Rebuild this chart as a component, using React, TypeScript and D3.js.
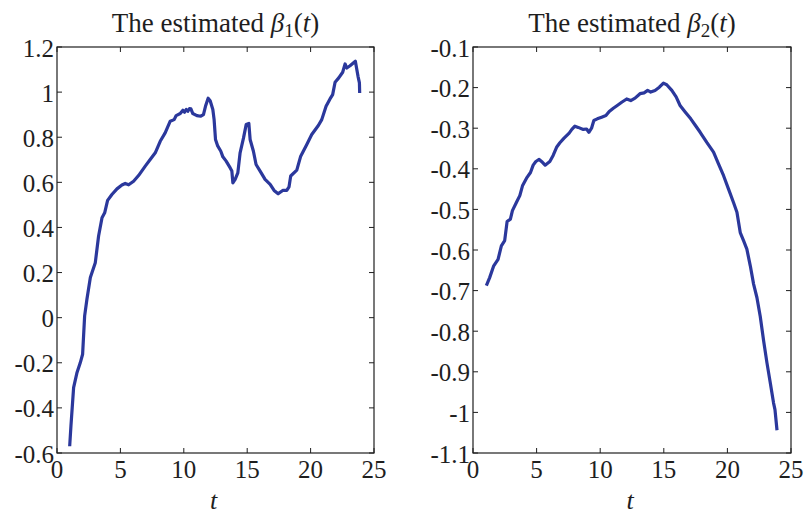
import React from "react";
import * as d3 from "d3";

const beta1T = [1.0, 1.1, 1.31, 1.58, 1.84, 2.02, 2.18, 2.36, 2.63, 3.02, 3.28, 3.55, 3.76, 3.99, 4.33, 4.73, 5.12, 5.38, 5.65, 6.04, 6.43, 6.96, 7.35, 7.75, 8.14, 8.53, 8.93, 9.24, 9.4, 9.72, 9.93, 10.06, 10.19, 10.32, 10.45, 10.56, 10.71, 11.03, 11.34, 11.55, 11.71, 11.92, 12.08, 12.29, 12.39, 12.5, 12.66, 12.92, 13.08, 13.34, 13.66, 13.79, 13.87, 14.05, 14.26, 14.44, 14.71, 14.92, 15.13, 15.23, 15.49, 15.7, 16.02, 16.41, 16.81, 17.12, 17.44, 17.8, 18.12, 18.3, 18.43, 18.91, 19.22, 19.7, 20.09, 20.61, 20.88, 21.22, 21.53, 21.74, 21.93, 22.22, 22.53, 22.72, 22.85, 23.11, 23.53, 23.74, 23.85, 23.87];
const beta1V = [-0.57, -0.48, -0.31, -0.243, -0.199, -0.162, 0.008, 0.082, 0.178, 0.244, 0.362, 0.443, 0.465, 0.52, 0.546, 0.571, 0.588, 0.595, 0.589, 0.605, 0.63, 0.672, 0.701, 0.731, 0.782, 0.819, 0.871, 0.878, 0.896, 0.905, 0.92, 0.911, 0.923, 0.915, 0.927, 0.926, 0.905, 0.896, 0.893, 0.9, 0.937, 0.973, 0.962, 0.923, 0.878, 0.79, 0.763, 0.738, 0.713, 0.694, 0.664, 0.65, 0.598, 0.613, 0.642, 0.731, 0.797, 0.856, 0.861, 0.79, 0.738, 0.679, 0.65, 0.613, 0.591, 0.564, 0.549, 0.564, 0.564, 0.58, 0.628, 0.654, 0.716, 0.768, 0.812, 0.852, 0.878, 0.937, 0.97, 0.989, 1.044, 1.063, 1.088, 1.125, 1.107, 1.117, 1.137, 1.07, 1.041, 0.996];

const beta2T = [1.05, 1.31, 1.63, 1.97, 2.23, 2.49, 2.68, 2.94, 3.1, 3.41, 3.68, 3.89, 4.25, 4.52, 4.73, 4.94, 5.2, 5.46, 5.67, 6.04, 6.3, 6.57, 6.83, 7.14, 7.56, 7.77, 8.01, 8.27, 8.67, 8.93, 9.11, 9.32, 9.5, 9.77, 10.11, 10.45, 10.71, 11.03, 11.34, 11.69, 12.08, 12.4, 12.74, 13.13, 13.45, 13.73, 13.97, 14.31, 14.65, 14.97, 15.23, 15.63, 15.97, 16.28, 16.68, 17.12, 17.46, 17.86, 18.38, 18.91, 19.3, 19.7, 20.09, 20.48, 20.75, 21.01, 21.27, 21.53, 21.8, 22.06, 22.32, 22.58, 22.85, 23.11, 23.37, 23.63, 23.74, 23.9];
const beta2V = [-0.688, -0.668, -0.639, -0.623, -0.59, -0.577, -0.53, -0.524, -0.503, -0.483, -0.466, -0.442, -0.421, -0.409, -0.391, -0.382, -0.377, -0.384, -0.391, -0.382, -0.367, -0.347, -0.336, -0.325, -0.312, -0.303, -0.295, -0.298, -0.303, -0.302, -0.31, -0.3, -0.281, -0.277, -0.273, -0.269, -0.259, -0.251, -0.244, -0.236, -0.228, -0.232, -0.226, -0.215, -0.213, -0.207, -0.211, -0.207, -0.199, -0.189, -0.193, -0.207, -0.223, -0.244, -0.26, -0.277, -0.292, -0.31, -0.335, -0.359, -0.388, -0.417, -0.45, -0.483, -0.507, -0.557, -0.577, -0.598, -0.639, -0.684, -0.717, -0.763, -0.824, -0.878, -0.927, -0.977, -0.993, -1.044];

const xTicks = [0, 5, 10, 15, 20, 25];
const y1Ticks = [-0.6, -0.4, -0.2, 0, 0.2, 0.4, 0.6, 0.8, 1, 1.2];
const y2Ticks = [-1.1, -1, -0.9, -0.8, -0.7, -0.6, -0.5, -0.4, -0.3, -0.2, -0.1];

const FONT = "Liberation Serif";
const LINE = "#2b389c";
const INK = "#1e1e1e";

function fmt(v: number) {
  return String(Math.round(v * 10) / 10);
}

type PanelProps = {
  left: number; right: number; top: number; bottom: number;
  ts: number[]; vs: number[]; yDomain: [number, number]; yTicks: number[]; sub: string;
};

function Panel({ left, right, top, bottom, ts, vs, yDomain, yTicks, sub }: PanelProps) {
  const x = d3.scaleLinear().domain([0, 25]).range([left, right]);
  const y = d3.scaleLinear().domain(yDomain).range([bottom, top]);
  const pts = ts.map((t, i) => [t, vs[i]] as [number, number]);
  const line = d3.line<[number, number]>().x(d => x(d[0])).y(d => y(d[1]));
  const tl = 5;
  const cx = (left + right) / 2;
  return (
    <g>
      <text x={cx} y={32} textAnchor="middle" fontFamily={FONT} fontSize={27} fill={INK}>
        The estimated <tspan fontStyle="italic">β</tspan>
        <tspan fontSize={19} dy={5}>{sub}</tspan>
        <tspan dy={-5}>(</tspan><tspan fontStyle="italic">t</tspan>)
      </text>
      <path d={line(pts) || ""} fill="none" stroke={LINE} strokeWidth={3.2} strokeLinejoin="round" />
      <rect x={left} y={top} width={right - left} height={bottom - top} fill="none" stroke={INK} strokeWidth={1.2} />
      {xTicks.map(t => (
        <g key={"x" + t}>
          <line x1={x(t)} x2={x(t)} y1={bottom} y2={bottom - tl} stroke={INK} />
          <line x1={x(t)} x2={x(t)} y1={top} y2={top + tl} stroke={INK} />
          <text x={x(t)} y={478} textAnchor="middle" fontFamily={FONT} fontSize={25} fill={INK}>{t}</text>
        </g>
      ))}
      {yTicks.map(v => (
        <g key={"y" + v}>
          <line x1={left} x2={left + tl} y1={y(v)} y2={y(v)} stroke={INK} />
          <line x1={right} x2={right - tl} y1={y(v)} y2={y(v)} stroke={INK} />
          <text x={left - 3} y={y(v)} dy="0.38em" textAnchor="end" fontFamily={FONT} fontSize={25} fill={INK}>{fmt(v)}</text>
        </g>
      ))}
      <text x={cx - 2} y={509} textAnchor="middle" fontFamily={FONT} fontSize={26} fontStyle="italic" fill={INK}>t</text>
    </g>
  );
}

export default function App() {
  return (
    <svg width={804} height={516} style={{ position: "absolute", left: 0, top: 0, background: "#fff" }}>
      <rect width={804} height={516} fill="#fff" />
      <Panel left={57} right={374} top={47} bottom={453} ts={beta1T} vs={beta1V} yDomain={[-0.6, 1.2]} yTicks={y1Ticks} sub="1" />
      <Panel left={473} right={791} top={47} bottom={453} ts={beta2T} vs={beta2V} yDomain={[-1.1, -0.1]} yTicks={y2Ticks} sub="2" />
    </svg>
  );
}
